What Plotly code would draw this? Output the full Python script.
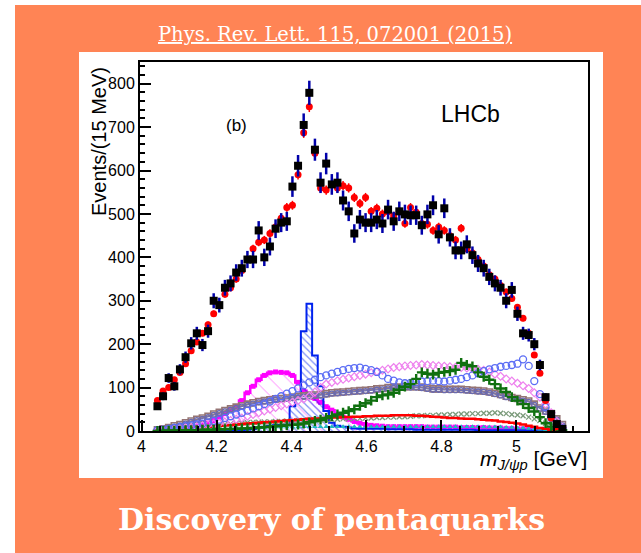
import numpy as np
import plotly.graph_objects as go

# ---------------- data (15 MeV bins in m(J/psi p), GeV) ----------------
bin_lo = 4.035
bin_w = 0.015
n_bins = 73
centers = bin_lo + bin_w * (np.arange(n_bins) + 0.5)
edges = bin_lo + bin_w * np.arange(n_bins + 1)

data_events = [57, 80, 122, 103, 142, 170, 202, 225, 198, 230, 300, 290, 330, 340, 365, 375, 395, 395,
               462, 400, 425, 466, 480, 483, 563, 611, 705, 779, 648, 572, 616, 568, 572, 531, 506, 455,
               487, 480, 480, 487, 478, 510, 483, 506, 499, 497, 497, 474, 499, 520, 453, 513, 446, 416,
               416, 430, 405, 386, 375, 355, 340, 330, 300, 325, 270, 225, 221, 200, 152, 78, 39, 16, 5]

fit_total = [70, 92, 100, 118, 135, 155, 185, 205, 225, 245, 270, 290, 315, 330, 350, 370, 395, 420,
             435, 440, 455, 470, 490, 515, 520, 590, 687, 747, 640, 560, 555, 568, 560, 565, 560, 538,
             524, 538, 506, 513, 500, 505, 495, 505, 478, 515, 504, 478, 476, 462, 470, 462, 450, 440,
             467, 420, 410, 395, 380, 360, 350, 335, 320, 305, 285, 260, 225, 175, 133, 70, 30, 10, 3]

pc4450 = [0, 0, 0, 0, 0, 0, 0, 0, 0, 0, 0, 0, 0, 1, 2, 2, 3, 4, 8, 10, 12, 14, 14, 15, 57, 80, 230,
          293, 174, 103, 46, 19, 12, 10, 8, 6, 5, 5, 5, 5, 5, 4, 4, 4, 4, 4, 3, 3, 3, 3, 3, 3, 3, 3,
          3, 3, 3, 2, 2, 2, 2, 2, 2, 2, 2, 2, 2, 1, 1, 1, 1, 0, 0]

pc4380 = [2, 3, 4, 5, 6, 7, 8, 10, 14, 18, 24, 32, 40, 48, 56, 70, 88, 103, 118, 128, 134, 136, 135,
          134, 128, 112, 93, 85, 75, 66, 56, 48, 38, 32, 27, 22, 18, 15, 13, 12, 11, 10, 10, 10, 10,
          10, 10, 10, 9, 9, 9, 9, 9, 9, 8, 8, 8, 8, 8, 7, 7, 7, 6, 6, 5, 5, 4, 4, 3, 2, 1, 1, 0]

lambda_a = [3, 5, 8, 12, 15, 19, 23, 27, 30, 34, 39, 43, 47, 51, 55, 58, 62, 65, 68, 70, 72, 74, 75,
            76, 78, 80, 81, 82, 83, 84, 86, 88, 89, 90, 91, 92, 93, 94, 95, 97, 98, 100, 101, 101,
            102, 102, 102, 101, 99, 97, 97, 96, 96, 96, 96, 95, 94, 93, 92, 90, 87, 84, 80, 77, 75,
            72, 69, 62, 53, 46, 40, 28, 15]

lambda_b = [2, 4, 7, 10, 13, 17, 21, 25, 28, 32, 37, 41, 45, 49, 53, 56, 60, 63, 66, 68, 70, 72, 73,
            74, 76, 78, 79, 80, 81, 82, 84, 86, 87, 88, 89, 90, 91, 92, 93, 95, 96, 98, 99, 99, 100,
            100, 100, 99, 97, 95, 95, 94, 94, 94, 94, 93, 92, 91, 90, 88, 85, 82, 78, 75, 73, 70, 67,
            60, 51, 44, 38, 26, 13]

blue_circles = [2, 3, 5, 7, 9, 11, 13, 15, 17, 20, 23, 26, 30, 34, 38, 42, 47, 52, 57, 62, 68, 74,
                80, 86, 92, 98, 105, 112, 118, 124, 128, 132, 136, 140, 143, 145, 146, 143, 140,
                136, 128, 120, 116, 112, 110, 111, 112, 114, 115, 116, 115, 114, 116, 118, 120,
                124, 128, 133, 138, 142, 145, 148, 150, 152, 155, 165, 150, 115, 85, 55, 30, 15, 6]

pink_diamonds = [1, 2, 3, 4, 5, 7, 8, 10, 12, 14, 16, 18, 21, 24, 27, 30, 34, 38, 42, 46, 50, 54,
                 58, 62, 66, 70, 74, 80, 90, 100, 108, 112, 116, 119, 122, 125, 128, 131, 134, 137,
                 140, 143, 146, 148, 150, 151, 152, 153, 152, 151, 150, 149, 148, 147, 146, 145,
                 144, 142, 140, 136, 131, 126, 120, 115, 110, 104, 98, 88, 78, 62, 42, 22, 8]

green_crosses = [0, 0, 1, 1, 1, 2, 2, 2, 3, 3, 3, 4, 4, 5, 5, 6, 6, 7, 8, 9, 10, 11, 12, 13, 14,
                 15, 17, 20, 23, 26, 30, 34, 38, 42, 46, 50, 58, 64, 70, 78, 82, 84, 88, 95, 102,
                 108, 120, 135, 132, 130, 134, 136, 138, 141, 157, 152, 149, 135, 125, 118, 108,
                 98, 90, 78, 70, 62, 53, 45, 32, 18, 10, 5, 2]

grey_x = [3, 4, 5, 6, 7, 8, 9, 10, 11, 12, 13, 14, 15, 16, 17, 18, 19, 20, 20, 21, 21, 22, 22, 23,
          23, 24, 24, 25, 25, 26, 26, 27, 27, 28, 28, 29, 29, 30, 30, 31, 31, 32, 32, 33, 33, 34,
          35, 35, 36, 36, 37, 37, 38, 38, 39, 39, 40, 40, 41, 41, 42, 41, 40, 38, 37, 35, 32, 28,
          24, 18, 12, 6, 3]

red_line = [1, 2, 3, 4, 5, 6, 7, 8, 9, 10, 11, 12, 13, 14, 15, 16, 17, 18, 19, 20, 21, 22, 23, 24,
            25, 26, 27, 28, 29, 29, 30, 31, 31, 32, 32, 33, 33, 34, 34, 35, 35, 35, 36, 36, 36, 36,
            35, 35, 34, 33, 32, 31, 30, 30, 29, 28, 28, 27, 26, 25, 24, 22, 21, 19, 17, 15, 12, 10,
            7, 5, 3, 1, 0]

cyan_tri = [1, 2, 2, 3, 3, 4, 4, 5, 5, 5, 6, 6, 6, 7, 7, 7, 8, 8, 8, 8, 9, 9, 9, 9, 9, 9, 10, 10,
            10, 10, 10, 10, 10, 10, 10, 10, 10, 10, 10, 10, 10, 10, 10, 10, 10, 10, 10, 10, 10, 10,
            10, 10, 10, 10, 10, 10, 10, 10, 9, 9, 9, 9, 8, 8, 7, 7, 6, 5, 4, 3, 2, 1, 0]

x_tick_vals = [4, 4.2, 4.4, 4.6, 4.8, 5]
x_tick_text = ["4", "4.2", "4.4", "4.6", "4.8", "5"]
y_tick_vals = [0, 100, 200, 300, 400, 500, 600, 700, 800]

for arr in (data_events, fit_total, pc4450, pc4380, lambda_a, lambda_b, blue_circles,
            pink_diamonds, green_crosses, grey_x, red_line, cyan_tri):
    assert len(arr) == n_bins, len(arr)

# ---------------- figure ----------------
W, H = 641, 553
L, R, T, B = 140, 53, 62, 122
pw, ph = W - L - R, H - T - B


def px_x(p):
    return (p - L) / pw


def px_y(p):
    return (H - B - p) / ph


def step_xy(vals):
    xs = [edges[0]] + list(edges)
    ys = [0] + list(vals) + [vals[-1]]
    xs = xs + [edges[-1]]
    ys = ys + [0]
    return xs, ys


fig = go.Figure()

# Pc(4380) magenta hatched histogram
xs, ys = step_xy(pc4380)
fig.add_trace(go.Scatter(x=xs, y=ys, mode="lines", line=dict(color="#ff00ff", width=2.5, shape="hv"),
                         fill="tozeroy", fillcolor="rgba(0,0,0,0)",
                         fillpattern=dict(shape="\\", fgcolor="#ff00ff", bgcolor="rgba(0,0,0,0)",
                                          size=12, solidity=0.08),
                         hoverinfo="skip", showlegend=False))
fig.add_trace(go.Scatter(x=centers, y=pc4380, mode="markers",
                         marker=dict(symbol="square", size=5, color="#ff00ff"), showlegend=False))

# Pc(4450) blue hatched histogram
xs, ys = step_xy(pc4450)
fig.add_trace(go.Scatter(x=xs, y=ys, mode="lines", line=dict(color="#0022ee", width=2, shape="hv"),
                         fill="tozeroy", fillcolor="rgba(0,0,0,0)",
                         fillpattern=dict(shape="\\", fgcolor="#0022ee", bgcolor="rgba(0,0,0,0)",
                                          size=5, solidity=0.25),
                         hoverinfo="skip", showlegend=False))

# small background-like components
fig.add_trace(go.Scatter(x=centers, y=cyan_tri, mode="markers",
                         marker=dict(symbol="triangle-up", size=5, color="#20b8c0"), showlegend=False))
fig.add_trace(go.Scatter(x=centers, y=grey_x, mode="markers",
                         marker=dict(symbol="x-thin", size=5, line=dict(color="#7a9a7a", width=1.3)),
                         showlegend=False))
xs, ys = step_xy(red_line)
fig.add_trace(go.Scatter(x=xs[1:-1], y=ys[1:-1], mode="lines", line=dict(color="#ff0000", width=2.5, shape="hv"),
                         showlegend=False))

# Lambda* components (grey band)
fig.add_trace(go.Scatter(x=centers, y=lambda_a, mode="lines+markers",
                         line=dict(color="#9a7c7c", width=1.5),
                         marker=dict(symbol="square-open", size=6, color="#957575", line=dict(width=1.6)),
                         showlegend=False))
fig.add_trace(go.Scatter(x=centers, y=lambda_b, mode="lines+markers",
                         line=dict(color="#6e6eb0", width=1.2),
                         marker=dict(symbol="circle-open", size=5, color="#6a6ab0", line=dict(width=1.3)),
                         showlegend=False))

# pink diamonds
fig.add_trace(go.Scatter(x=centers, y=pink_diamonds, mode="markers",
                         marker=dict(symbol="diamond-open", size=6, color="#ee82ee", line=dict(width=1.2)),
                         showlegend=False))
# blue open circles
fig.add_trace(go.Scatter(x=centers, y=blue_circles, mode="markers",
                         marker=dict(symbol="circle-open", size=7, color="#5a6cf5", line=dict(width=1.3)),
                         showlegend=False))
# green crosses
fig.add_trace(go.Scatter(x=centers, y=green_crosses, mode="markers",
                         marker=dict(symbol="cross-thin", size=7, line=dict(color="#0f700f", width=2.4)),
                         showlegend=False))

# total fit (red)
fig.add_trace(go.Scatter(x=centers, y=fit_total, mode="markers",
                         marker=dict(symbol="circle", size=7, color="#ff0000"),
                         error_y=dict(type="data", array=list(np.sqrt(fit_total) * 0.45), color="#ff0000",
                                      thickness=1.5, width=0),
                         showlegend=False))
# data (black squares, blue error bars)
fig.add_trace(go.Scatter(x=centers, y=data_events, mode="markers",
                         marker=dict(symbol="square", size=8, color="#000000"),
                         error_y=dict(type="data", array=list(np.sqrt(data_events)), color="#0000aa",
                                      thickness=2.5, width=0),
                         showlegend=False))

axis_font = dict(family="Liberation Sans, Arial, sans-serif", size=16, color="black")
fig.update_xaxes(range=[3.996, 5.1907], showline=True, linewidth=2, linecolor="black", mirror=True,
                 ticks="inside", ticklen=11, tickwidth=2, tickcolor="black",
                 tickvals=x_tick_vals, ticktext=x_tick_text, tickfont=axis_font,
                 showgrid=False, zeroline=False,
                 minor=dict(dtick=0.05, ticks="inside", ticklen=5, tickwidth=1.5, tickcolor="black",
                            showgrid=False))
fig.update_yaxes(range=[0, 850], showline=True, linewidth=2, linecolor="black", mirror=True,
                 ticks="inside", ticklen=11, tickwidth=2, tickcolor="black",
                 tickvals=y_tick_vals, tickfont=axis_font,
                 showgrid=False, zeroline=False,
                 minor=dict(dtick=20, ticks="inside", ticklen=5, tickwidth=1.5, tickcolor="black",
                            showgrid=False))

orange = "#ff8455"
fig.update_layout(
    width=W, height=H, margin=dict(l=L, r=R, t=T, b=B),
    paper_bgcolor="white", plot_bgcolor="white",
    shapes=[
        dict(type="rect", xref="paper", yref="paper", x0=px_x(15), x1=px_x(641), y0=px_y(553), y1=px_y(5),
             fillcolor=orange, line=dict(width=0), layer="below"),
        dict(type="rect", xref="paper", yref="paper", x0=px_x(79), x1=px_x(603), y0=px_y(478), y1=px_y(52),
             fillcolor="white", line=dict(width=0), layer="below"),
    ],
    annotations=[
        dict(text="<u>Phys. Rev. Lett. 115, 072001 (2015)</u>", xref="paper", yref="paper",
             x=px_x(335), y=px_y(34), xanchor="center", yanchor="middle", showarrow=False,
             font=dict(family="DejaVu Serif, serif", size=19.5, color="white")),
        dict(text="<b>Discovery of pentaquarks</b>", xref="paper", yref="paper",
             x=px_x(331), y=px_y(519), xanchor="center", yanchor="middle", showarrow=False,
             font=dict(family="DejaVu Serif, serif", size=30, color="white")),
        dict(text="Events/(15 MeV)", xref="paper", yref="paper", x=px_x(99), y=px_y(142),
             xanchor="center", yanchor="middle", textangle=-90, showarrow=False,
             font=dict(family="Liberation Sans, Arial, sans-serif", size=20, color="black")),
        dict(text="(b)", xref="paper", yref="paper", x=px_x(236), y=px_y(125),
             xanchor="center", yanchor="middle", showarrow=False,
             font=dict(family="Liberation Sans, Arial, sans-serif", size=17, color="black")),
        dict(text="LHCb", xref="paper", yref="paper", x=px_x(470.5), y=px_y(114),
             xanchor="center", yanchor="middle", showarrow=False,
             font=dict(family="Liberation Sans, Arial, sans-serif", size=23, color="black")),
        dict(text="<i>m</i><sub><i>J/ψp</i></sub> [GeV]", xref="paper", yref="paper",
             x=px_x(589), y=px_y(460), xanchor="right", yanchor="middle", showarrow=False,
             font=dict(family="Liberation Sans, Arial, sans-serif", size=21, color="black")),
    ],
)

fig.write_html("out.html")
